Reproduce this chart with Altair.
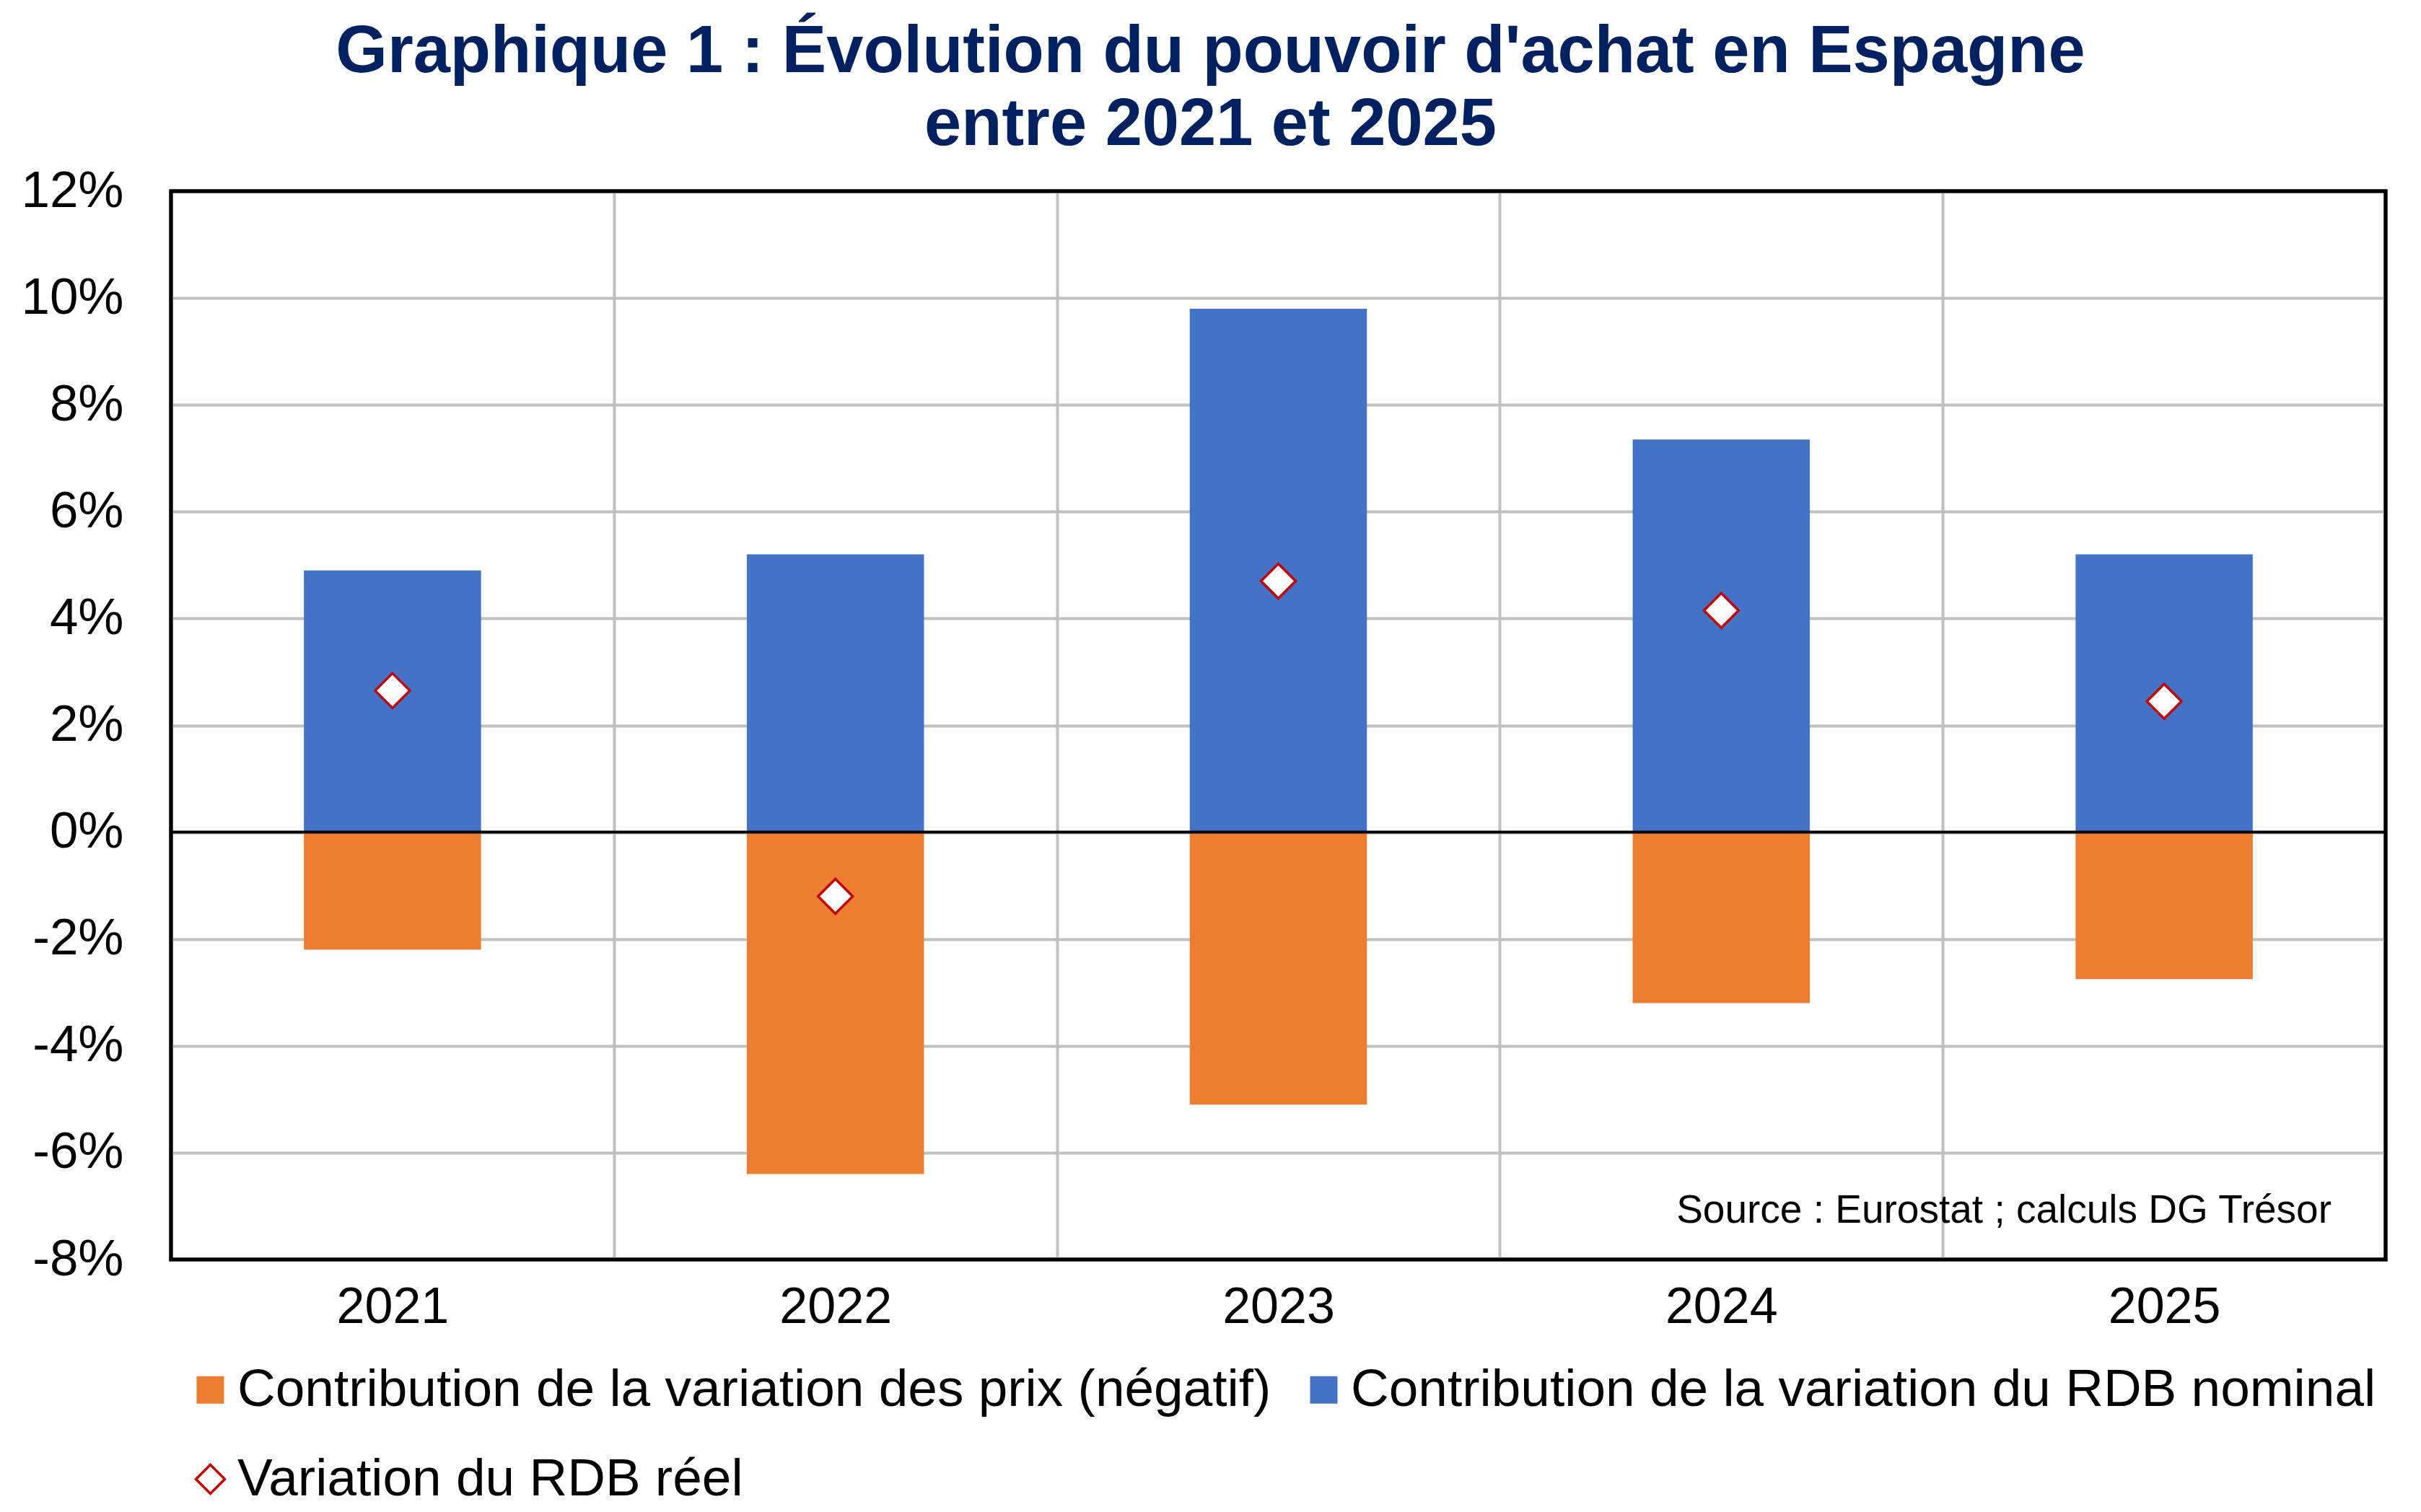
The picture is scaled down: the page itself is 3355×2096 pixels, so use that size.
import altair as alt
import pandas as pd

# Data
annees = ["2021", "2022", "2023", "2024", "2025"]
rdb_nominal = [4.9, 5.2, 9.8, 7.35, 5.2]
prix = [-2.2, -6.4, -5.1, -3.2, -2.75]
rdb_reel = [2.65, -1.2, 4.7, 4.15, 2.45]

serie_prix = "Contribution de la variation des prix (négatif)"
serie_nominal = "Contribution de la variation du RDB nominal"
serie_reel = "Variation du RDB réel"

titre = ["Graphique 1 : Évolution du pouvoir d'achat en Espagne", "entre 2021 et 2025"]
source = "Source : Eurostat ; calculs DG Trésor"
y_ticks = [-8, -6, -4, -2, 0, 2, 4, 6, 8, 10, 12]

FONT = "Liberation Sans"
W, H = 3069, 1481

bars_df = pd.DataFrame({
    "annee": annees * 2,
    "serie": [serie_prix] * len(annees) + [serie_nominal] * len(annees),
    "valeur": prix + rdb_nominal,
})
points_df = pd.DataFrame({"annee": annees, "serie": [serie_reel] * len(annees), "valeur": rdb_reel})
zero_df = pd.DataFrame({"valeur": [0]})
source_df = pd.DataFrame({"texte": [source]})
frame_df = pd.DataFrame({"cadre": [1]})

# One full band per year: vertical grid lines fall on the band boundaries
x_enc = alt.X(
    "annee:N",
    sort=annees,
    scale=alt.Scale(paddingInner=0, paddingOuter=0),
    axis=alt.Axis(
        title=None, labelAngle=0, grid=True, tickBand="extent", ticks=False,
        domain=False, labelFontSize=70, labelPadding=32,
    ),
)
y_scale = alt.Scale(domain=[-8, 12], nice=False, zero=False)
y_axis = alt.Axis(
    title=None, values=y_ticks, labelExpr="datum.value + '%'", grid=True,
    ticks=False, tickSize=0, domain=False, labelPadding=66, labelFontSize=71,
)

bars = alt.Chart(bars_df).mark_bar(width=alt.RelativeBandSize(0.4)).encode(
    x=x_enc,
    y=alt.Y("valeur:Q", stack=None, scale=y_scale, axis=y_axis),
    color=alt.Color(
        "serie:N",
        scale=alt.Scale(domain=[serie_prix, serie_nominal], range=["#ED7D31", "#4472C4"]),
        legend=alt.Legend(
            title=None, orient="none", legendX=18, legendY=1625,
            direction="horizontal", columns=2, symbolType="square",
            symbolSize=1444, symbolStrokeWidth=0, columnPadding=36,
            labelOffset=1, labelFontSize=73, labelLimit=3000, padding=0,
        ),
    ),
)

zero = alt.Chart(zero_df).mark_rule(color="black", strokeWidth=4).encode(y="valeur:Q")

reel_legend = alt.Legend(
    title=None, orient="none", legendX=18, legendY=1749,
    symbolSize=1600, symbolFillColor="white", symbolStrokeWidth=3.5,
    labelOffset=1, labelFontSize=73, labelLimit=3000, padding=0,
)

points = alt.Chart(points_df).mark_point(
    filled=False, fill="white", strokeWidth=3.5, size=2304, opacity=1, fillOpacity=1
).encode(
    x=alt.X("annee:N", sort=annees),
    y=alt.Y("valeur:Q"),
    shape=alt.Shape(
        "serie:N",
        scale=alt.Scale(domain=[serie_reel], range=["diamond"]),
        legend=reel_legend,
    ),
    stroke=alt.Stroke(
        "serie:N",
        scale=alt.Scale(domain=[serie_reel], range=["#C00000"]),
        legend=reel_legend,
    ),
)

note = alt.Chart(source_df).mark_text(
    align="right", baseline="alphabetic", fontSize=55, font=FONT, color="black"
).encode(x=alt.value(W - 75), y=alt.value(H - 51), text="texte:N")

# Black plot-area border drawn above the grid lines
cadre = alt.Chart(frame_df).mark_rect(
    filled=False, fill=None, stroke="black", strokeWidth=5
).encode(x=alt.value(0), x2=alt.value(W), y=alt.value(0), y2=alt.value(H))

chart = alt.layer(bars, zero, points, note, cadre).properties(
    width=W,
    height=H,
    padding={"left": 237, "top": 265, "right": 49, "bottom": 350},
    autosize=alt.AutoSizeParams(type="none"),
    title=alt.TitleParams(
        text=titre, fontSize=92, font=FONT, fontWeight="bold", color="#002060",
        anchor="middle", frame="group", dx=-94, lineHeight=101, offset=9,
    ),
).configure(
    font=FONT, background="white"
).configure_axis(
    labelFont=FONT, labelColor="black", gridColor="#C0C0C0", gridWidth=4,
).configure_legend(
    labelFont=FONT, labelColor="black",
).configure_view(
    stroke="black", strokeWidth=5,
)

chart.save("out.html", embed_options={"renderer": "svg", "actions": False})
